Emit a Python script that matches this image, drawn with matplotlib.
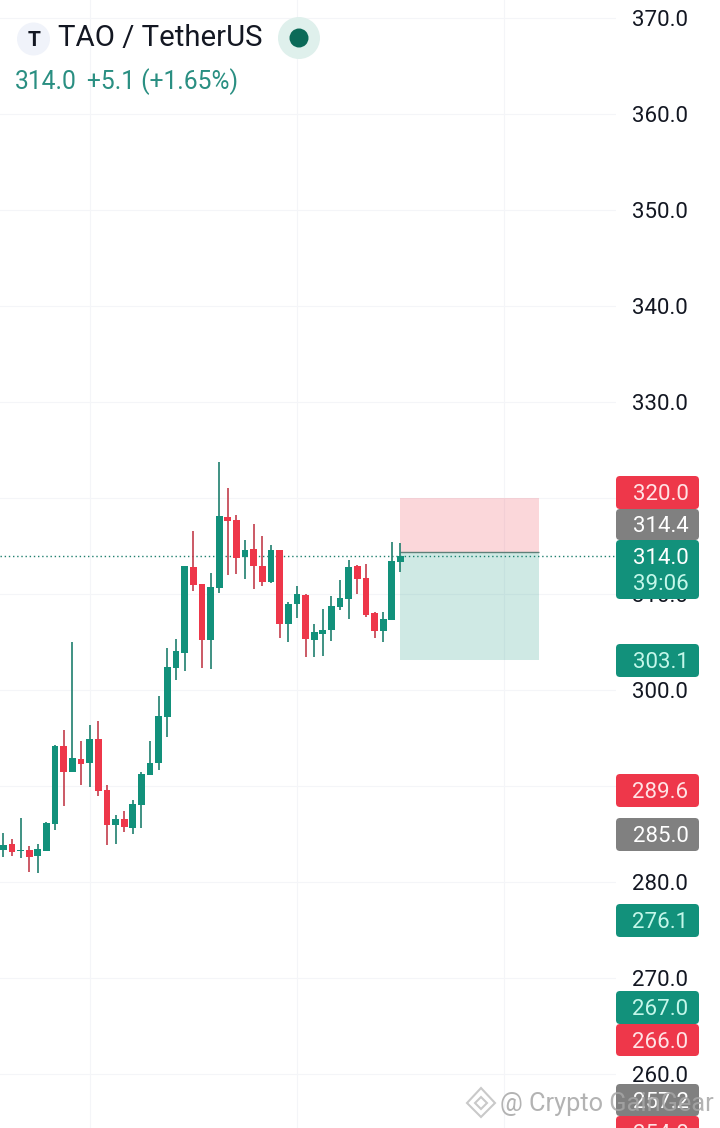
import matplotlib
matplotlib.use("Agg")
import matplotlib.pyplot as plt
from matplotlib.patches import FancyBboxPatch, Circle, Rectangle, Polygon

plt.rcParams['font.family'] = ['Roboto', 'DejaVu Sans']

# ---- data (prices) ----
opens = [283.33, 283.96, 283.23, 283.33, 282.71, 283.23, 286.04, 294.17, 291.46, 292.8,
         292.4, 294.9, 289.6, 285.9, 286.6, 285.6, 288.0, 291.15, 292.4, 297.2,
         302.3, 303.9, 312.8, 311.0, 305.2, 310.6, 318.0, 317.7, 313.85, 314.7,
         312.9, 311.25, 314.6, 306.9, 309.0, 309.9, 305.2, 305.8, 306.25, 308.65,
         309.5, 312.9, 311.7, 308.0, 306.15, 307.3, 313.3]
highs = [285.07, 284.48, 286.7, 283.75, 283.96, 286.2, 294.27, 295.83, 305.03, 294.7,
         296.35, 296.8, 290.1, 287.0, 287.4, 288.5, 291.46, 294.7, 299.4, 304.4,
         305.3, 312.95, 316.6, 311.0, 312.2, 323.75, 321.0, 318.2, 315.6, 317.3,
         316.0, 315.1, 314.6, 309.2, 310.8, 310.0, 306.9, 308.4, 309.8, 311.5,
         313.5, 313.0, 313.1, 308.1, 308.1, 315.4, 315.3]
lows = [282.57, 282.71, 282.47, 281.08, 280.97, 283.23, 285.42, 287.9, 291.46, 290.1,
        289.9, 289.0, 283.85, 283.96, 285.2, 285.0, 285.6, 291.1, 291.7, 295.1,
        301.04, 302.0, 310.3, 302.3, 302.2, 310.1, 312.0, 312.1, 311.6, 310.5,
        310.8, 311.15, 305.4, 305.0, 307.5, 303.4, 303.4, 303.5, 305.1, 308.3,
        307.4, 310.0, 307.6, 305.4, 305.0, 307.3, 312.3]
closes = [283.85, 283.12, 283.33, 282.6, 283.44, 286.15, 294.17, 291.46, 292.9, 292.3,
          294.9, 289.5, 285.9, 286.6, 285.7, 288.1, 291.25, 292.4, 297.3, 302.4,
          304.06, 312.9, 310.9, 305.2, 310.7, 318.1, 317.6, 313.75, 314.6, 312.9,
          311.25, 314.6, 306.9, 309.0, 310.0, 305.3, 306.0, 306.25, 308.75, 309.6,
          312.8, 311.6, 307.8, 306.15, 307.4, 313.4, 314.0]

y_ticks = [260, 270, 280, 290, 300, 310, 320, 330, 340, 350, 360, 370]
grid_x = [10, 34, 58]
last_price = 314.0
stop_price = 320.0
entry_price = 314.4
target_price = 303.1
position_span = [46, 62]

# price tags: text, colour key
tags = [("320.0", "red"), ("314.4", "gray"), ("314.0", "green"), ("303.1", "green"),
        ("289.6", "red"), ("285.0", "gray"), ("276.1", "green"), ("267.0", "green"),
        ("266.0", "red"), ("257.2", "gray"), ("254.0", "red")]
tag_spans_px = [(476, 509), (509, 540), (540, 599), (644, 677), (774, 807), (818, 851),
                (904, 937), (991, 1024), (1024, 1056), (1084, 1116), (1116, 1148)]

GREEN, RED = "#12917b", "#ee374a"
WICK_G, WICK_R = "#1f7f6e", "#c23d4c"
FILL = {"red": RED, "gray": "#808080", "green": GREEN}
INK = {"red": "#ffe3e5", "gray": "#ffffff", "green": "#c4f7ea"}
GRID = "#f4f5f8"

W, H = 720, 1128
fig = plt.figure(figsize=(W / 100, H / 100), dpi=100, facecolor="white")

# ---- price chart ----
ax = fig.add_axes([0, 0, 616 / W, 1])
ax.set_xlim(-0.382, 70.96)
ax.set_ylim(254.375, 371.875)
for s in ax.spines.values():
    s.set_visible(False)
ax.set_axisbelow(True)
ax.grid(True, color=GRID, lw=0.8)
ax.set_xticks(grid_x)
ax.tick_params(axis="x", length=0, labelbottom=False)
ax.yaxis.tick_right()
ax.set_yticks(y_ticks)
ax.set_yticklabels([f"{v:.1f}" for v in y_ticks])
ax.tick_params(axis="y", length=0, pad=11.5, labelsize=16, labelcolor="#131722")
for lab in ax.get_yticklabels():
    lab.set_verticalalignment("center_baseline")

for i, (o, h, l, c) in enumerate(zip(opens, highs, lows, closes)):
    up = c >= o
    ax.vlines(i, l, h, color=WICK_G if up else WICK_R, lw=1.2, zorder=3)
    ax.add_patch(Rectangle((i - 0.39, min(o, c)), 0.78, abs(c - o), fc=GREEN if up else RED,
                           ec="none", zorder=4))

ax.axhline(last_price, color="#1f7f6e", lw=1.0, ls=(0, (1, 2)), zorder=2)
x0, x1 = position_span
ax.add_patch(Rectangle((x0, entry_price), x1 - x0, stop_price - entry_price, fc=RED, alpha=0.2, ec="none", zorder=2.5))
ax.add_patch(Rectangle((x0, target_price), x1 - x0, entry_price - target_price, fc=GREEN, alpha=0.2, ec="none", zorder=2.5))
ax.hlines(entry_price, x0, x1, color="#5f7f78", lw=1.0, zorder=2.6)

# ---- pixel overlay: tags, header, watermark ----
ov = fig.add_axes([0, 0, 1, 1], zorder=5, facecolor="none")
ov.set_xlim(0, W)
ov.set_ylim(H, 0)
ov.axis("off")

for (txt, key), (top, bot) in zip(tags, tag_spans_px):
    ov.add_patch(FancyBboxPatch((618, top + 2), 79, bot - top - 4,
                                boxstyle="round,pad=2,rounding_size=4",
                                fc=FILL[key], ec="none", zorder=2))
    if txt == "314.0":
        ov.text(660.5, 558, txt, color="#ffffff", fontsize=16, ha="center", va="center", zorder=3)
        ov.text(660.5, 584, "39:06", color=INK[key], fontsize=16, ha="center", va="center", zorder=3)
    else:
        ov.text(660.5, (top + bot) / 2 + 2, txt, color=INK[key], fontsize=16, ha="center", va="center", zorder=3)

# header
ov.add_patch(Circle((33.5, 39), 16.5, fc="#f0f3fa", ec="none"))
ov.text(34, 40.5, "T", fontsize=15, fontweight="bold", color="#131722", ha="center", va="center")
ov.text(58, 38, "TAO / TetherUS", fontsize=21.2, color="#131722", ha="left", va="center")
ov.add_patch(Circle((299, 38), 21, fc="#dff0ec", ec="none"))
ov.add_patch(Circle((299, 38), 9.5, fc="#0b6a58", ec="none"))
ov.text(15, 82, "314.0", fontsize=17.7, color="#2a8f82", ha="left", va="center")
ov.text(87, 82, "+5.1 (+1.65%)", fontsize=17.7, color="#2a8f82", ha="left", va="center")

# watermark
wm = "#a6a6a6"
ov.add_patch(Polygon([(481, 1088), (495, 1103), (481, 1117), (467, 1103)], closed=True,
                     fc="none", ec=wm, lw=1.5, alpha=0.6, zorder=6))
ov.add_patch(Polygon([(481, 1097), (487, 1103), (481, 1109), (475, 1103)], closed=True,
                     fc="none", ec=wm, lw=1.5, alpha=0.6, zorder=6))
ov.text(500, 1104, "@ Crypto GainGear", fontsize=18.3, color=wm, alpha=0.85, ha="left",
        va="center", zorder=6, clip_on=True)

fig.savefig("out.png", dpi=100, facecolor="white")
